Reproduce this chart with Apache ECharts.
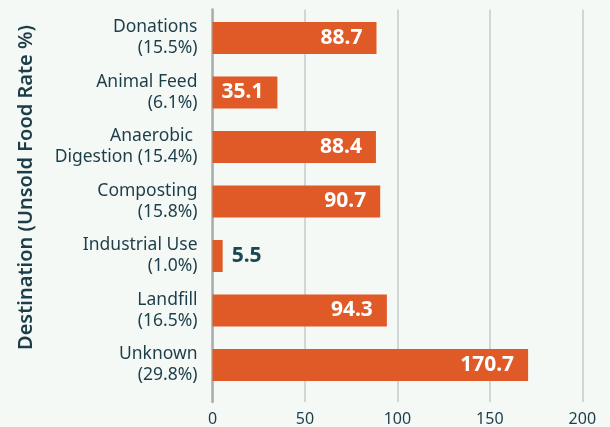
<!DOCTYPE html>
<html>
<head>
<meta charset="utf-8">
<style>
html,body{margin:0;padding:0;background:#f4f9f6;}
#chart{width:610px;height:427px;}
</style>
<script src="https://cdn.jsdelivr.net/npm/echarts@6/dist/echarts.min.js"></script>
</head>
<body>
<div id="chart"></div>
<script>
const categories = ['Donations\n(15.5%)', 'Animal Feed\n(6.1%)', 'Anaerobic \nDigestion (15.4%)', 'Composting\n(15.8%)', 'Industrial Use\n(1.0%)', 'Landfill\n(16.5%)', 'Unknown\n(29.8%)'];
const values = [88.7, 35.1, 88.4, 90.7, 5.5, 94.3, 170.7];
const xTicks = [0, 50, 100, 150, 200];
const yTitle = 'Destination (Unsold Food Rate %)';

const dark = '#1d3d48';
const FONT = 'Noto Sans';
const chart = echarts.init(document.getElementById('chart'));
const data = values.map(v => {
  const item = { value: v };
  if (v < 20) {
    item.label = { position: 'right', distance: 9, color: '#1b4752' };
  }
  return item;
});
chart.setOption({
  backgroundColor: '#f4f9f6',
  animation: false,
  textStyle: { fontFamily: FONT },
  grid: [
    { left: 212.5, right: 27.7, top: 9.5, bottom: 23, containLabel: false },
    { left: 212.5, right: 27.7, top: 10.75, bottom: 34.75, containLabel: false }
  ],
  graphic: [{
    type: 'text', x: 26, y: 187.5, rotation: Math.PI / 2,
    style: {
      text: yTitle, fill: dark, fontSize: 20, fontWeight: 600, fontFamily: FONT,
      align: 'center', verticalAlign: 'middle'
    }
  }],
  xAxis: [
    {
      gridIndex: 0, type: 'value', min: xTicks[0], max: xTicks[xTicks.length - 1], interval: 50,
      axisLine: { show: false }, axisTick: { show: false },
      splitLine: { show: true, lineStyle: { color: '#c6cbcb', width: 1.5 } },
      axisLabel: { color: dark, fontSize: 16, margin: 9, fontFamily: FONT }
    },
    {
      gridIndex: 1, type: 'value', min: 0, max: 200,
      show: false
    }
  ],
  yAxis: [
    {
      gridIndex: 0, type: 'category', data: [''],
      axisLine: { show: true, lineStyle: { color: '#a9aeae', width: 2.5 } },
      axisTick: { show: false }, axisLabel: { show: false }, splitLine: { show: false }
    },
    {
      gridIndex: 1, type: 'category', data: categories, inverse: true,
      axisLine: { show: false }, axisTick: { show: false },
      axisLabel: { color: dark, fontSize: 17.5, lineHeight: 21, margin: 15, align: 'right', fontFamily: FONT }
    }
  ],
  series: [{
    type: 'bar', xAxisIndex: 1, yAxisIndex: 1,
    data: data, barWidth: 32,
    itemStyle: { color: '#e05a27' },
    label: {
      show: true, position: 'insideRight', distance: 14,
      color: '#ffffff', fontSize: 21, fontWeight: 'bold', fontFamily: FONT
    }
  }]
});
</script>
</body>
</html>
